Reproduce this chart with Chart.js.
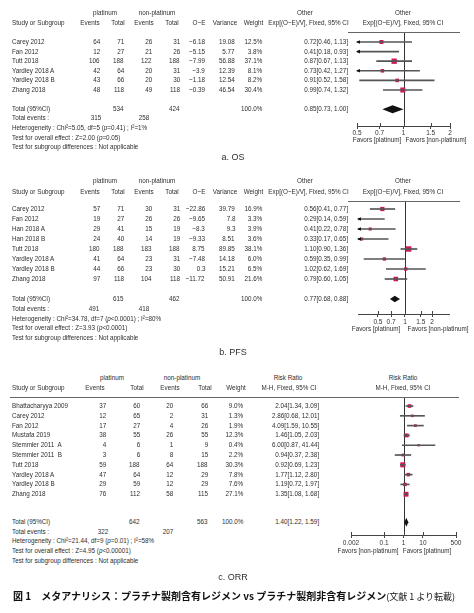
<!DOCTYPE html>
<html><head><meta charset="utf-8">
<script src="https://cdn.jsdelivr.net/npm/chart.js@4.4.1/dist/chart.umd.min.js"></script>
<style>
html,body{margin:0;padding:0;background:#fff;width:474px;height:613px;overflow:hidden;}
#root{position:relative;width:474px;height:613px;}
.t{position:absolute;white-space:pre;font-family:"Liberation Sans",Arial,sans-serif;font-size:7.5px;color:#2e2e2e;line-height:10px;height:10px;}
.cap{font-size:9px;line-height:12px;height:12px;}
.fig{font-family:"Noto Sans CJK JP",sans-serif;font-size:10px;color:#111;line-height:14px;height:14px;font-weight:700;}
.hl{position:absolute;height:0;border-top:1px solid #666;}
canvas{position:absolute;}
</style></head><body><div id="root"></div>
<script>
// ---------- a. OS ----------
const osStudies = ['Carey 2012','Fan 2012','Tutt 2018','Yardley 2018 A','Yardley 2018 B','Zhang 2018'];
const osPlatEvents = [64,12,106,42,43,48];
const osPlatTotal = [71,27,188,64,66,118];
const osNonEvents = [26,21,122,20,20,49];
const osNonTotal = [31,26,188,31,30,118];
const osOE = [-6.18,-5.15,-7.99,-3.9,-1.18,-0.39];
const osVar = [19.08,5.77,56.88,12.39,12.54,46.54];
const osWeight = [12.5,3.8,37.1,8.1,8.2,30.4];
const osEst = [0.72,0.41,0.87,0.73,0.91,0.99];
const osLo = [0.46,0.18,0.67,0.42,0.52,0.74];
const osHi = [1.13,0.93,1.13,1.27,1.58,1.32];
const osTotals = {plat:534, non:424, platEv:315, nonEv:258, est:0.85, lo:0.73, hi:1.00};
const osTicks = [0.5,0.7,1,1.5,2];

// ---------- b. PFS ----------
const pfsStudies = ['Carey 2012','Fan 2012','Han 2018 A','Han 2018 B','Tutt 2018','Yardley 2018 A','Yardley 2018 B','Zhang 2018'];
const pfsPlatEvents = [57,19,29,24,180,41,44,97];
const pfsPlatTotal = [71,27,41,40,188,64,66,118];
const pfsNonEvents = [30,26,15,14,183,23,23,104];
const pfsNonTotal = [31,26,19,19,188,31,30,118];
const pfsOE = [-22.86,-9.65,-8.3,-9.33,8.75,-7.48,0.3,-11.72];
const pfsVar = [39.79,7.8,9.3,8.51,89.85,14.18,15.21,50.91];
const pfsWeight = [16.9,3.3,3.9,3.6,38.1,6.0,6.5,21.6];
const pfsEst = [0.56,0.29,0.41,0.33,1.10,0.59,1.02,0.79];
const pfsLo = [0.41,0.14,0.22,0.17,0.90,0.35,0.62,0.60];
const pfsHi = [0.77,0.59,0.78,0.65,1.36,0.99,1.69,1.05];
const pfsTotals = {plat:615, non:462, platEv:491, nonEv:418, est:0.77, lo:0.68, hi:0.88};
const pfsTicks = [0.5,0.7,1,1.5,2];

// ---------- c. ORR ----------
const orrStudies = ['Bhattacharyya 2009','Carey 2012','Fan 2012','Mustafa 2019','Stemmler 2011  A','Stemmler 2011  B','Tutt 2018','Yardley 2018 A','Yardley 2018 B','Zhang 2018'];
const orrPlatEvents = [37,12,17,38,4,3,59,47,29,76];
const orrPlatTotal = [60,65,27,55,6,6,188,64,59,112];
const orrNonEvents = [20,2,4,26,1,8,64,12,12,58];
const orrNonTotal = [66,31,26,55,9,15,188,29,29,115];
const orrWeight = [9.0,1.3,1.9,12.3,0.4,2.2,30.3,7.8,7.6,27.1];
const orrEst = [2.04,2.86,4.09,1.46,6.00,0.94,0.92,1.77,1.19,1.35];
const orrLo = [1.34,0.68,1.59,1.05,0.87,0.37,0.69,1.12,0.72,1.08];
const orrHi = [3.09,12.01,10.55,2.03,41.44,2.38,1.23,2.80,1.97,1.68];
const orrTotals = {plat:642, non:563, platEv:322, nonEv:207, est:1.40, lo:1.22, hi:1.59};
const orrTicks = [0.002,0.1,1,10,500];

// ---------- helpers ----------
const W = 474;
const SX = 0.84;
const root = document.getElementById('root');
const RED = '#d0175a';
const TICKFONT = {family:'"Liberation Sans",Arial,sans-serif', size:6.5};

function txt(html, x, y, align, cls){
  const d = document.createElement('div');
  d.className = 't' + (cls ? ' ' + cls : '');
  d.innerHTML = html;
  root.appendChild(d);
  const h = d.offsetHeight;
  d.style.top = Math.round(y - h/2) + 'px';
  const sc = cls ? 1 : SX;
  if (align === 'right') {
    d.style.right = (W - x) + 'px';
    d.style.transformOrigin = '100% 50%';
    d.style.transform = 'scaleX(' + sc + ')';
  } else if (align === 'center') {
    d.style.left = x + 'px';
    d.style.transformOrigin = '50% 50%';
    d.style.transform = 'translateX(-50%) scaleX(' + sc + ')';
  } else {
    d.style.left = x + 'px';
    d.style.transformOrigin = '0 50%';
    d.style.transform = 'scaleX(' + sc + ')';
  }
  return d;
}
function hline(x1, x2, y){
  const d = document.createElement('div');
  d.className = 'hl';
  d.style.left = x1 + 'px'; d.style.width = (x2 - x1) + 'px'; d.style.top = y + 'px';
  root.appendChild(d);
}
const signed = v => v < 0 ? '\u2212' + Math.abs(v) : String(v);
const ciStr = (e, l, h) => e.toFixed(2) + '[' + l.toFixed(2) + ', ' + h.toFixed(2) + ']';
const pct = w => w.toFixed(1) + '%';

const forestDeco = {
  id: 'forestDeco',
  beforeDatasetsDraw(chart, args, o){
    const {ctx, chartArea: a, scales: {x}} = chart;
    const x1 = Math.round(x.getPixelForValue(1)) + 0.5;
    ctx.save();
    ctx.strokeStyle = '#333'; ctx.lineWidth = 1;
    ctx.beginPath(); ctx.moveTo(x1, a.top); ctx.lineTo(x1, a.bottom); ctx.stroke();
    ctx.strokeStyle = '#444';
    x.ticks.forEach(t => {
      const px = Math.round(x.getPixelForValue(t.value)) + 0.5;
      ctx.beginPath(); ctx.moveTo(px, a.bottom - 3); ctx.lineTo(px, a.bottom); ctx.stroke();
    });
    ctx.restore();
  },
  afterDatasetsDraw(chart, args, o){
    const {ctx, chartArea: a, scales: {x, y}} = chart;
    ctx.save();
    ctx.fillStyle = '#111';
    o.lo.forEach((v, i) => {
      if (v < x.min) {
        const py = y.getPixelForValue(i);
        ctx.beginPath();
        ctx.moveTo(a.left - 1, py);
        ctx.lineTo(a.left + 3, py - 1.8);
        ctx.lineTo(a.left + 3, py + 1.8);
        ctx.closePath(); ctx.fill();
      }
    });
    const t = o.total;
    const py = y.getPixelForValue(o.totalRow);
    const pe = x.getPixelForValue(t.est);
    let pl = x.getPixelForValue(t.lo), ph = x.getPixelForValue(t.hi);
    pl = Math.min(pl, pe - 2); ph = Math.max(ph, pe + 2);
    ctx.beginPath();
    ctx.moveTo(pl, py); ctx.lineTo(pe, py - o.dh); ctx.lineTo(ph, py); ctx.lineTo(pe, py + o.dh);
    ctx.closePath(); ctx.fill();
    ctx.restore();
  }
};

function forest(p){
  const PADL = 20, PADR = 16, PADT = 4;
  const w = p.axR - p.axL + PADL + PADR;
  const h = PADT + (p.axY - p.top) + p.axH;
  const cv = document.createElement('canvas');
  cv.width = w; cv.height = h;
  cv.style.width = w + 'px'; cv.style.height = h + 'px';
  cv.style.left = (p.axL - PADL) + 'px';
  cv.style.top = (p.top - PADT) + 'px';
  root.appendChild(cv);
  const rows = p.est.map((_, i) => i);
  const side = wt => 2 + 0.55 * Math.sqrt(wt);
  const chart = new Chart(cv, {
    type: 'scatter',
    data: {
      datasets: [
        {
          type: 'bar', indexAxis: 'y',
          data: rows.map(i => ({y: i, x: [p.lo[i], p.hi[i]]})),
          backgroundColor: '#555', borderWidth: 0, barThickness: 1, clip: 0
        },
        {
          type: 'scatter',
          data: rows.map(i => ({x: p.est[i], y: i})),
          pointStyle: 'rect',
          pointRadius: p.weight.map(wt => side(wt) / Math.SQRT2),
          backgroundColor: RED, borderWidth: 0, clip: 0
        }
      ]
    },
    options: {
      responsive: false, animation: false, events: [],
      layout: {padding: {left: PADL, right: PADR, top: PADT, bottom: 0}},
      plugins: {
        legend: {display: false}, tooltip: {enabled: false},
        forestDeco: {lo: p.lo, total: p.total, totalRow: p.totalRow, dh: p.dh}
      },
      scales: {
        x: {
          type: 'logarithmic', min: p.min, max: p.max, offset: false,
          afterBuildTicks: s => { s.ticks = p.ticks.map(v => ({value: v})); },
          afterFit: s => { s.height = p.axH; },
          ticks: {callback: v => String(v), font: TICKFONT, color: '#333', padding: p.tickPad, autoSkip: false, maxRotation: 0},
          grid: {drawOnChartArea: false, drawTicks: true, tickLength: 3, color: '#444', offset: false},
          border: {display: true, color: '#444'}
        },
        y: {type: 'linear', display: false, reverse: true, min: p.ymin, max: p.ymax, offset: false, grace: 0, grid: {offset: false}}
      }
    },
    plugins: [forestDeco]
  });
  const rowY = i => (p.top - PADT) + chart.scales.y.getPixelForValue(i);
  return rowY;
}

function table(rowY, names, cols, n){
  for (let i = 0; i < n; i++){
    const y = rowY(i);
    txt(names[i], 12, y);
    cols.forEach(c => txt(String(c.vals[i]), c.x, y, 'right'));
  }
}

// ================= a. OS =================
const rowA = forest({axL:357, axR:450, top:32, axY:126, axH:22, tickPad:0,
  min:0.5, max:2, ticks:osTicks, ymin:-1.04, ymax:8.75, totalRow:7, dh:4,
  est:osEst, lo:osLo, hi:osHi, weight:osWeight, total:osTotals});
hline(348, 460, 32);
txt('platinum', 105, 13, 'center'); txt('non-platinum', 157, 13, 'center');
txt('Other', 305, 13, 'center'); txt('Other', 403, 13, 'center');
txt('Study or Subgroup', 12, 23);
txt('Events', 90, 23, 'center'); txt('Total', 118, 23, 'center');
txt('Events', 144, 23, 'center'); txt('Total', 172, 23, 'center');
txt('O\u2212E', 199, 23, 'center'); txt('Variance', 225, 23, 'center');
txt('Weight', 263, 23, 'right'); txt('Exp[(O\u2212E)/V], Fixed, 95% CI', 349, 23, 'right');
txt('Exp[(O\u2212E)/V], Fixed, 95% CI', 403, 23, 'center');
table(rowA, osStudies, [
  {vals: osPlatEvents, x: 100}, {vals: osPlatTotal, x: 124},
  {vals: osNonEvents, x: 152}, {vals: osNonTotal, x: 180},
  {vals: osOE.map(signed), x: 205}, {vals: osVar, x: 235},
  {vals: osWeight.map(pct), x: 262},
  {vals: osEst.map((e, i) => ciStr(e, osLo[i], osHi[i])), x: 348}
], osStudies.length);
(function(){
  const y = rowA(7);
  txt('Total (95%CI)', 12, y);
  txt(String(osTotals.plat), 124, y, 'right'); txt(String(osTotals.non), 180, y, 'right');
  txt('100.0%', 262, y, 'right'); txt(ciStr(osTotals.est, osTotals.lo, osTotals.hi), 348, y, 'right');
})();
txt('Total events :', 12, 118);
txt(String(osTotals.platEv), 96, 118, 'center'); txt(String(osTotals.nonEv), 144, 118, 'center');
txt('Heterogeneity : Chi\u00b2=5.05, df=5 (<i>p</i>=0.41) ; I\u00b2=1%', 12, 128);
txt('Test for overall effect : Z=2.00 (<i>p</i>=0.05)', 12, 137.5);
txt('Test for subgroup differences : Not applicable', 12, 147);
txt('Favors [platinum]', 377, 140, 'center'); txt('Favors [non-platinum]', 436, 140, 'center');
txt('a. OS', 233, 157, 'center', 'cap');

// ================= b. PFS =================
const rowB = forest({axL:358, axR:449, top:201, axY:314, axH:22, tickPad:1,
  min:0.324, max:3.09, ticks:pfsTicks, ymin:-0.8, ymax:10.5, totalRow:9, dh:3.2,
  est:pfsEst, lo:pfsLo, hi:pfsHi, weight:pfsWeight, total:pfsTotals});
hline(348, 460, 201);
txt('platinum', 105, 181, 'center'); txt('non-platinum', 157, 181, 'center');
txt('Other', 305, 181, 'center'); txt('Other', 403, 181, 'center');
txt('Study or Subgroup', 12, 192);
txt('Events', 90, 192, 'center'); txt('Total', 118, 192, 'center');
txt('Events', 144, 192, 'center'); txt('Total', 172, 192, 'center');
txt('O\u2212E', 199, 192, 'center'); txt('Variance', 225, 192, 'center');
txt('Weight', 263, 192, 'right'); txt('Exp[(O\u2212E)/V], Fixed, 95% CI', 349, 192, 'right');
txt('Exp[(O\u2212E)/V], Fixed, 95% CI', 403, 192, 'center');
table(rowB, pfsStudies, [
  {vals: pfsPlatEvents, x: 100}, {vals: pfsPlatTotal, x: 124},
  {vals: pfsNonEvents, x: 152}, {vals: pfsNonTotal, x: 180},
  {vals: pfsOE.map(signed), x: 205}, {vals: pfsVar, x: 235},
  {vals: pfsWeight.map(pct), x: 262},
  {vals: pfsEst.map((e, i) => ciStr(e, pfsLo[i], pfsHi[i])), x: 348}
], pfsStudies.length);
(function(){
  const y = rowB(9);
  txt('Total (95%CI)', 12, y);
  txt(String(pfsTotals.plat), 124, y, 'right'); txt(String(pfsTotals.non), 180, y, 'right');
  txt('100.0%', 262, y, 'right'); txt(ciStr(pfsTotals.est, pfsTotals.lo, pfsTotals.hi), 348, y, 'right');
})();
txt('Total events :', 12, 309);
txt(String(pfsTotals.platEv), 94, 309, 'center'); txt(String(pfsTotals.nonEv), 144, 309, 'center');
txt('Heterogeneity : Chi\u00b2=34.78, df=7 (<i>p</i>&lt;0.0001) ; I\u00b2=80%', 12, 318.5);
txt('Test for overall effect : Z=3.93 (<i>p</i>&lt;0.0001)', 12, 328);
txt('Test for subgroup differences : Not applicable', 12, 337.5);
txt('Favors [platinum]', 376, 329, 'center'); txt('Favors [non-platinum]', 438, 329, 'center');
txt('b. PFS', 233, 352, 'center', 'cap');

// ================= c. ORR =================
const rowC = forest({axL:351, axR:456, top:397, axY:535, axH:22, tickPad:1,
  min:0.002, max:500, ticks:orrTicks, ymin:-0.92, ymax:13.16, totalRow:11.85, dh:4.5,
  est:orrEst, lo:orrLo, hi:orrHi, weight:orrWeight, total:orrTotals});
hline(10, 459, 397);
txt('platinum', 112, 378, 'center'); txt('non-platinum', 182, 378, 'center');
txt('Risk Ratio', 288, 378, 'center'); txt('Risk Ratio', 403, 378, 'center');
txt('Study or Subgroup', 12, 388);
txt('Events', 95, 388, 'center'); txt('Total', 137, 388, 'center');
txt('Events', 170, 388, 'center'); txt('Total', 205, 388, 'center');
txt('Weight', 236, 388, 'center');
txt('M-H, Fixed, 95% CI', 289, 388, 'center'); txt('M-H, Fixed, 95% CI', 403, 388, 'center');
table(rowC, orrStudies, [
  {vals: orrPlatEvents, x: 106}, {vals: orrPlatTotal, x: 140},
  {vals: orrNonEvents, x: 173}, {vals: orrNonTotal, x: 208},
  {vals: orrWeight.map(pct), x: 243},
  {vals: orrEst.map((e, i) => ciStr(e, orrLo[i], orrHi[i])), x: 319}
], orrStudies.length);
(function(){
  const y = rowC(11.85);
  txt('Total (95%CI)', 12, y);
  txt(String(orrTotals.plat), 140, y, 'right'); txt(String(orrTotals.non), 208, y, 'right');
  txt('100.0%', 243, y, 'right'); txt(ciStr(orrTotals.est, orrTotals.lo, orrTotals.hi), 319, y, 'right');
})();
txt('Total events :', 12, 531.5);
txt(String(orrTotals.platEv), 103, 531.5, 'center'); txt(String(orrTotals.nonEv), 168, 531.5, 'center');
txt('Heterogeneity : Chi\u00b2=21.44, df=9 (<i>p</i>=0.01) ; I\u00b2=58%', 12, 541);
txt('Test for overall effect : Z=4.95 (<i>p</i>&lt;0.00001)', 12, 551);
txt('Test for subgroup differences : Not applicable', 12, 560.5);
txt('Favors [non-platinum]', 368, 551, 'center'); txt('Favors [platinum]', 427, 551, 'center');
txt('c. ORR', 233, 577, 'center', 'cap');

txt('図 1\u3000メタアナリシス：プラチナ製剤含有レジメン vs プラチナ製剤非含有レジメン<span style="font-weight:400;font-size:9px">(文献 1 より転載)</span>', 13, 596, 'left', 'fig');
</script></body></html>
